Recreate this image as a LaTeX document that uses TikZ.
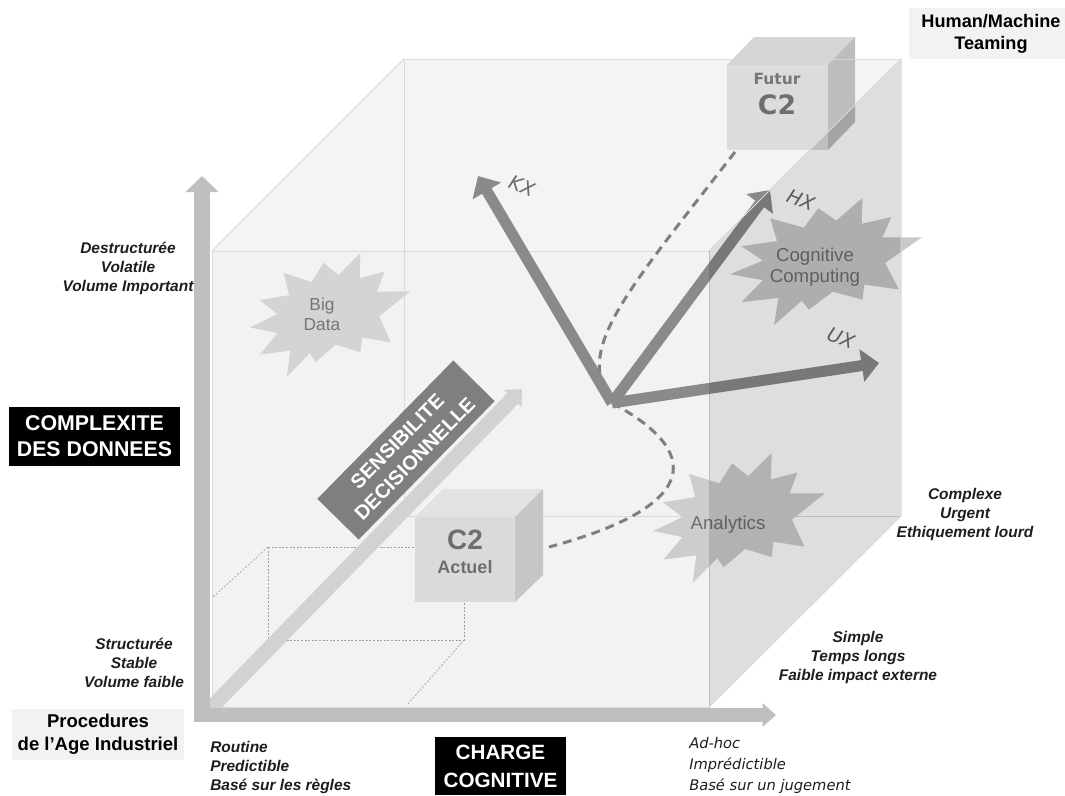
\documentclass[tikz,border=0pt]{standalone}
\usepackage{fontspec}
\setmainfont{Liberation Sans}
\newfontfamily\dejavu{DejaVu Sans}
\usetikzlibrary{arrows.meta}
\definecolor{cubefront}{HTML}{F2F2F2}
\definecolor{cubetop}{HTML}{F4F4F4}
\definecolor{cubeedge}{HTML}{D9D9D9}
\definecolor{axisgray}{HTML}{BFBFBF}
\definecolor{diaggray}{HTML}{D2D2D2}
\definecolor{sensgray}{HTML}{7F7F7F}
\definecolor{vecgray}{HTML}{8A8A8A}
\definecolor{dashgray}{HTML}{7F7F7F}
\definecolor{labelbg}{HTML}{F2F2F2}
\definecolor{labeltext}{HTML}{1E1E1E}
\definecolor{startxt}{HTML}{767676}
\definecolor{cubetxt}{HTML}{6E6E6E}
\definecolor{bdstar}{HTML}{D4D4D4}
\definecolor{ccstar}{HTML}{C9C9C9}
\definecolor{anstar}{HTML}{CDCDCD}
\definecolor{ftfront}{HTML}{DCDCDC}
\definecolor{fttop}{HTML}{D5D5D5}
\definecolor{ftside}{HTML}{BDBDBD}
\definecolor{acfront}{HTML}{DADADA}
\definecolor{actop}{HTML}{E2E2E2}
\definecolor{acside}{HTML}{C6C6C6}
\definecolor{dotgray}{HTML}{A0A0A0}
\definecolor{veclbl}{HTML}{6A6A6A}

\newcommand{\explosionpath}{(0.69,0.00) -- (0.686,0.203) -- (0.84,0.15) -- (0.794,0.311) -- (1.00,0.31) -- (0.808,0.511) -- (0.88,0.72) -- (0.700,0.682) -- (0.69,0.80) -- (0.535,0.738) -- (0.41,0.88) -- (0.374,0.808) -- (0.23,1.00) -- (0.252,0.787) -- (0.06,0.82) -- (0.171,0.647) -- (0.00,0.60) -- (0.171,0.493) -- (0.06,0.38) -- (0.245,0.339) -- (0.21,0.16) -- (0.385,0.234) -- (0.46,0.08) -- (0.553,0.178) -- cycle}

\begin{document}
\begin{tikzpicture}[x=0.75pt,y=-0.75pt,
  edge/.style={cubeedge, line width=0.75pt},
  dotline/.style={dotgray, line width=0.5pt, dash pattern=on 1.5pt off 1.2pt},
  vec/.style={vecgray, line width=8.25pt, -{Triangle[width=24pt,length=13pt]}},
  dashline/.style={dashgray, line width=2.25pt, dash pattern=on 6.75pt off 4.5pt},
  veclabel/.style={inner sep=0pt, text=veclbl, font=\dejavu\itshape\fontsize{14.5}{16}\selectfont},
  startext/.style={inner sep=0pt, align=center, text=startxt, font=\fontsize{14}{15.5}\selectfont},
  axlabel/.style={inner sep=0pt, align=center, text=labeltext, font=\fontsize{11.6}{14.25}\selectfont\bfseries\itshape},
  graybox/.style={inner sep=0pt, align=center, fill=labelbg, text=black},
  blackbox/.style={inner sep=0pt, align=center, fill=black, text=white, font=\fontsize{16}{19.5}\selectfont\bfseries},
]
\useasboundingbox (0,0) rectangle (1065,796);
\fill[white] (0,0) rectangle (1065,796);

% big cube: top and front faces
\fill[cubetop] (212,251) -- (404,59) -- (901,59) -- (709,251) -- cycle;
\fill[cubefront] (212,251) rectangle (709,707);
\draw[edge] (404,59) -- (404,516) -- (901,516);
\draw[edge] (212,251) -- (404,59);
\draw[edge] (212,251) rectangle (709,707);

% dotted wireframe of current C2
\draw[dotline] (268,547) -- (415,547);
\draw[dotline] (268,547) -- (268,640) -- (464,640) -- (464,602);
\draw[dotline] (268,547) -- (212,598);
\draw[dotline] (464,640) -- (407,705);

% decision sensitivity axis
\coordinate (dstart) at (205,714);
\coordinate (dtip) at (522,389);
\draw[diaggray, line width=11.25pt, -{Triangle[width=18pt,length=10pt]}] (dstart) -- (dtip);
\node[fill=sensgray, rotate=45.5, minimum width=145.5pt, minimum height=43.5pt, inner sep=0pt, align=center, text=white, font=\fontsize{15}{18.5}\selectfont\bfseries] (sens) at (406,450) {SENSIBILITE\\DECISIONNELLE};

% Big Data
\fill[bdstar, shift={(250,253)}, xscale=160, yscale=124] \explosionpath;
\node[startext, font=\fontsize{13}{15}\selectfont] (bigdata) at (322,314) {Big\\Data};

% C2 Actuel cube
\fill[actop] (415,517) -- (443,489) -- (543,489) -- (515,517) -- cycle;
\fill[acside] (515,517) -- (543,489) -- (543,575) -- (515,602) -- cycle;
\node[fill=acfront, minimum width=75pt, minimum height=63.75pt, inner sep=0pt] (c2a) at (465,559.5) {};
\node[inner sep=0pt, text=cubetxt, font=\fontsize{21}{22}\selectfont\bfseries] (c2atitle) at (465,540) {C2};
\node[inner sep=0pt, text=cubetxt, font=\fontsize{13.5}{15}\selectfont\bfseries] (c2asub) at (465,567) {Actuel};

% Futur C2 cube
\fill[fttop] (727,65) -- (754,37) -- (855,37) -- (828,65) -- cycle;
\fill[ftside] (828,65) -- (855,37) -- (855,122) -- (828,150) -- cycle;
\node[fill=ftfront, minimum width=75.75pt, minimum height=63.75pt, inner sep=0pt] (ft) at (777.5,107.5) {};
\node[inner sep=0pt, text=startxt, font=\dejavu\bfseries\fontsize{11.6}{13}\selectfont] (ftsub) at (777,79) {Futur};
\node[inner sep=0pt, text=cubetxt, font=\dejavu\bfseries\fontsize{20}{22}\selectfont] (fttitle) at (777,105) {C2};
\draw[cubeedge, opacity=0.8, line width=0.75pt] (404,59) -- (901,59);

% trajectory
\coordinate (O) at (612,403);
\coordinate (c2aout) at (549,547);
\coordinate (ftout) at (735,152);
\draw[dashline] (ftout) .. controls (620,300) and (575,350) .. (O);
\draw[dashline] (O) .. controls (700,450) and (705,505) .. (c2aout);

% Cognitive Computing and Analytics
\fill[ccstar, shift={(730,198)}, xscale=192, yscale=127] \explosionpath;
\node[startext, text=cubetxt] (cc) at (815,267) {Cognitive\\Computing};
\fill[anstar, shift={(653,453)}, xscale=172, yscale=130] \explosionpath;
\node[startext, text=cubetxt] (an) at (728,525) {Analytics};

% experience vectors
\coordinate (kx) at (478,176);
\coordinate (hx) at (770,190);
\coordinate (ux) at (879,363);
\draw[vec] (O) -- (kx);
\draw[vec] (O) -- (hx);
\draw[vec] (O) -- (ux);
\node[veclabel, rotate=-22] (kxl) at (522,186) {KX};
\node[veclabel, rotate=-22] (hxl) at (801,200) {HX};
\node[veclabel, rotate=-22] (uxl) at (841,338) {UX};

% right face (translucent)
\fill[black, opacity=0.13] (709,251) -- (901,59) -- (901,516) -- (709,707) -- cycle;
\draw[edge] (709,251) -- (901,59) -- (901,516) -- (709,707);

% main axes
\coordinate (vbase) at (202,722);
\coordinate (vtip) at (202,176);
\coordinate (hbase) at (194,715);
\coordinate (htip) at (776,715);
\draw[axisgray, line width=12.5pt, -{Triangle[width=24pt,length=12pt]}] (vbase) -- (vtip);
\draw[axisgray, line width=10pt, -{Triangle[width=17pt,length=10pt]}] (hbase) -- (htip);

% axis labels
\node[axlabel] (destr) at (128,268) {Destructurée\\Volatile\\Volume Important};
\node[axlabel] (struc) at (134,663) {Structurée\\Stable\\Volume faible};
\node[axlabel, align=left, anchor=west] (routine) at (210,767) {Routine\\Predictible\\Basé sur les règles};
\node[axlabel] (complexe) at (965,514.5) {Complexe\\Urgent\\Ethiquement lourd};
\node[axlabel] (simple) at (858,657) {Simple\\Temps longs\\Faible impact externe};
\node[inner sep=0pt, align=left, anchor=west, text=labeltext, font=\dejavu\itshape\fontsize{11}{16}\selectfont] (adhoc) at (689,765.5) {Ad-hoc\\Imprédictible\\Basé sur un jugement};

% boxed titles
\node[graybox, minimum width=123pt, minimum height=38.25pt, font=\fontsize{13.6}{16.5}\selectfont\bfseries] (hmt) at (991,33.5) {Human/Machine\\Teaming};
\node[graybox, minimum width=129pt, minimum height=38.25pt, font=\fontsize{13.9}{17.25}\selectfont\bfseries] (proc) at (98,734.5) {Procedures\\de l’Age Industriel};
\node[blackbox, minimum width=128.25pt, minimum height=44.25pt] (cdd) at (94.5,436.5) {COMPLEXITE\\DES DONNEES};
\node[blackbox, minimum width=98.25pt, minimum height=43.5pt, font=\fontsize{15.5}{21}\selectfont\bfseries] (cc2) at (500.5,766) {CHARGE\\COGNITIVE};
\end{tikzpicture}
\end{document}
